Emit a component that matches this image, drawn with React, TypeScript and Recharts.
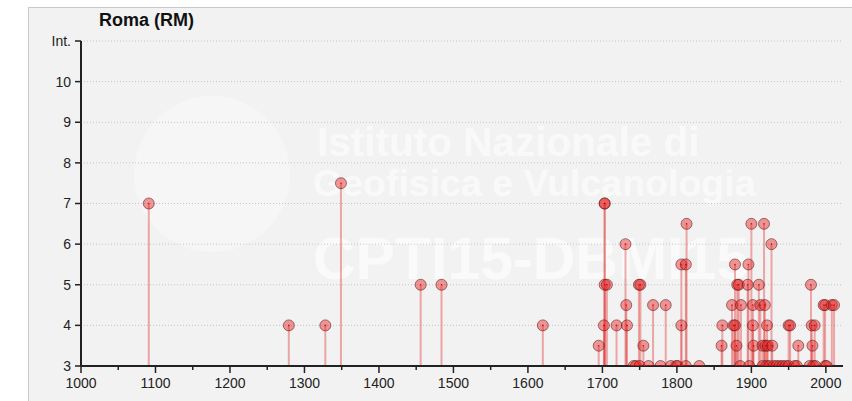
import React from 'react';
import { ScatterChart, Scatter, XAxis, YAxis, CartesianGrid, ErrorBar } from 'recharts';

const title = 'Roma (RM)';

// earthquake years and intensities
const years = [
  1091, 1279, 1328, 1349, 1456, 1484, 1620, 1695, 1702, 1703, 1703, 1703, 1706, 1719,
  1731, 1732, 1733, 1742, 1745, 1749, 1751, 1750, 1755, 1762, 1768, 1778, 1785, 1792,
  1799, 1801, 1806, 1806, 1812, 1813, 1812, 1830, 1860, 1861, 1874, 1876, 1878, 1878,
  1880, 1881, 1883, 1885, 1886, 1895, 1896, 1897, 1900, 1902, 1902, 1903, 1910, 1912,
  1915, 1915, 1917, 1918, 1919, 1920, 1921, 1922, 1924, 1927, 1928, 1930, 1934, 1938,
  1942, 1946, 1950, 1952, 1950, 1958, 1961, 1963, 1978, 1980, 1981, 1982, 1983, 1985,
  1986, 1997, 1999, 1999, 2001, 2008, 2011,
];
const intensities = [
  7, 4, 4, 7.5, 5, 5, 4, 3.5, 4, 7, 7, 5, 5, 4,
  6, 4.5, 4, 3, 3, 5, 5, 3, 3.5, 3, 4.5, 3, 4.5, 3,
  3, 3, 4, 5.5, 5.5, 6.5, 3, 3, 3.5, 4, 4.5, 4, 4, 5.5,
  3.5, 5, 5, 3, 4.5, 5, 5.5, 3, 6.5, 4.5, 4, 3.5, 5, 4.5,
  3.5, 3, 6.5, 4.5, 3.5, 3, 4, 3.5, 3, 6, 3.5, 3, 3, 3,
  3, 3, 4, 4, 3, 3, 3, 3.5, 3, 5, 4, 3.5, 3, 4,
  3, 4.5, 4.5, 3, 3, 4.5, 4.5,
];

const xTicks = [
  1000, 1050, 1100, 1150, 1200, 1250, 1300, 1350, 1400, 1450, 1500,
  1550, 1600, 1650, 1700, 1750, 1800, 1850, 1900, 1950, 2000,
];
const yTicks = [3, 4, 5, 6, 7, 8, 9, 10, 11];
const yTickLabels = ['3', '4', '5', '6', '7', '8', '9', '10', 'Int.'];

const watermarkLines = ['Istituto Nazionale di', 'Geofisica e Vulcanologia'];
const watermarkCode = 'CPTI15-DBMI15';

const baseIntensity = 3;
const data = years.map((year, i) => ({
  year,
  intensity: intensities[i],
  stem: [intensities[i] - baseIntensity, 0],
}));

const font = 'Arial, "Liberation Sans", sans-serif';
const wmColor = 'rgba(255,255,255,0.62)';

const XTick = (props: any) => {
  const { x, y, payload } = props;
  const major = payload.value % 100 === 0;
  return (
    <g>
      <line x1={x} x2={x} y1={y} y2={y + (major ? 7 : 4)} stroke="#222" strokeWidth={1.5} />
      {major && (
        <text x={x} y={y + 22} textAnchor="middle" fill="#222" fontSize={14} fontFamily={font}>
          {payload.value}
        </text>
      )}
    </g>
  );
};

const Dot = (props: any) => {
  const { cx, cy } = props;
  return (
    <g>
      <circle cx={cx} cy={cy} r={5.5} fill="rgba(232,30,30,0.45)" stroke="rgba(90,20,20,0.55)" strokeWidth={1} />
      <circle cx={cx} cy={cy} r={0.8} fill="rgba(120,0,0,0.7)" />
    </g>
  );
};

export default function App() {
  return (
    <div style={{ position: 'absolute', left: 0, top: 0, width: 852, height: 401, background: '#fff', overflow: 'hidden' }}>
      <div
        style={{
          position: 'absolute', left: 28, top: 7, right: 0, bottom: 0,
          background: '#f2f2f2', borderLeft: '1px solid #c9c9c9', borderTop: '1px solid #c9c9c9',
        }}
      />
      <div
        style={{
          position: 'absolute', left: 134, top: 96, width: 156, height: 156, borderRadius: '50%',
          background: 'rgba(255,255,255,0.35)',
        }}
      />
      <div style={{ position: 'absolute', left: 316, top: 0, fontFamily: font, fontWeight: 'bold', color: wmColor, lineHeight: 1, whiteSpace: 'nowrap' }}>
        <div style={{ position: 'absolute', left: 1, top: 122, fontSize: 40.5 }}>{watermarkLines[0]}</div>
        <div style={{ position: 'absolute', left: -3, top: 165, fontSize: 37.5 }}>{watermarkLines[1]}</div>
        <div style={{ position: 'absolute', left: -3, top: 230, fontSize: 59 }}>{watermarkCode}</div>
      </div>
      <div style={{ position: 'absolute', left: 99, top: 10, fontFamily: font, fontWeight: 'bold', fontSize: 18, color: '#111' }}>
        {title}
      </div>
      <div style={{ position: 'absolute', left: 0, top: 0 }}>
        <ScatterChart width={852} height={401} margin={{ top: 41, right: 9, bottom: 10, left: 41 }}>
          <CartesianGrid vertical={false} stroke="#c4c4c4" strokeDasharray="1 2" />
          <XAxis
            type="number"
            dataKey="year"
            domain={[1000, 2023]}
            ticks={xTicks}
            interval={0}
            tick={<XTick />}
            tickLine={false}
            tickSize={0}
            tickMargin={0}
            height={25}
            axisLine={{ stroke: '#222', strokeWidth: 2 }}
            allowDataOverflow
          />
          <YAxis
            type="number"
            dataKey="intensity"
            domain={[3, 11]}
            ticks={yTicks}
            interval={0}
            width={40}
            tickSize={6}
            tickMargin={4}
            tickFormatter={(v: number) => yTickLabels[yTicks.indexOf(v)]}
            tick={{ fill: '#222', fontSize: 14, fontFamily: font }}
            tickLine={{ stroke: '#222', strokeWidth: 1.5 }}
            axisLine={{ stroke: '#222', strokeWidth: 2 }}
            allowDataOverflow
          />
          <Scatter data={data} shape={<Dot />} isAnimationActive={false}>
            <ErrorBar dataKey="stem" direction="y" width={0} stroke="rgba(226,50,50,0.4)" strokeWidth={2} />
          </Scatter>
        </ScatterChart>
      </div>
    </div>
  );
}
